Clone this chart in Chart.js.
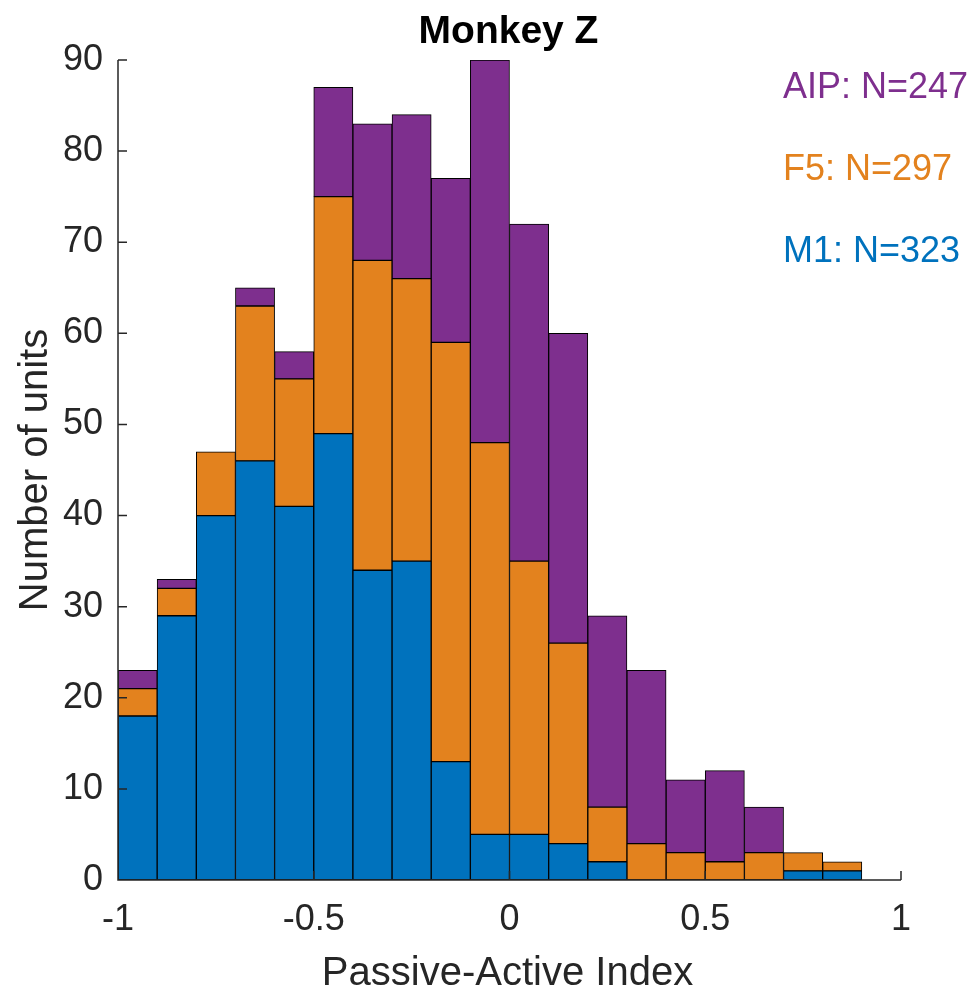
<!DOCTYPE html>
<html>
<head>
<meta charset="utf-8">
<script src="https://cdn.jsdelivr.net/npm/chart.js@4.4.1/dist/chart.umd.min.js"></script>
<style>
  html, body { margin: 0; padding: 0; background: #fff; }
  #wrap { width: 974px; height: 990px; }
</style>
</head>
<body>
<div id="wrap"><canvas id="histChart" width="974" height="990"></canvas></div>
<script>
// bin centers of the Passive-Active Index histogram (bin width 0.1)
const binCenters = [-0.95, -0.85, -0.75, -0.65, -0.55, -0.45, -0.35, -0.25, -0.15, -0.05,
                    0.05, 0.15, 0.25, 0.35, 0.45, 0.55, 0.65, 0.75, 0.85, 0.95];
// counts per area (stacked: M1 bottom, F5 middle, AIP top)
const m1Counts  = [18, 29, 40, 46, 41, 49, 34, 35, 13, 5, 5, 4, 2, 0, 0, 0, 0, 1, 1, 0];
const f5Counts  = [3, 3, 7, 17, 14, 26, 34, 31, 46, 43, 30, 22, 6, 4, 3, 2, 3, 2, 1, 0];
const aipCounts = [2, 1, 0, 2, 3, 12, 15, 18, 18, 42, 37, 34, 21, 19, 8, 10, 5, 0, 0, 0];
const xTicks = [-1, -0.5, 0, 0.5, 1];
const yTicks = [0, 10, 20, 30, 40, 50, 60, 70, 80, 90];
const areaLabels = ['AIP: N=247', 'F5: N=297', 'M1: N=323'];

const BLUE = '#0072BD';
const ORANGE = '#E3821E';
const PURPLE = '#7E2F8E';
const INK = '#262626';
const FONT = '"Liberation Sans", Arial, Helvetica, sans-serif';

function toPoints(counts) {
    return binCenters.map((c, i) => ({ x: c, y: counts[i] }));
}

// axes, inward ticks and all free text, drawn after the bars
const decorations = {
    id: 'decorations',
    afterDatasetsDraw(chart) {
        const { ctx, chartArea, scales } = chart;
        const x = scales.x, y = scales.y;
        ctx.save();
        ctx.strokeStyle = INK;
        ctx.lineWidth = 1.5;
        ctx.beginPath();
        ctx.moveTo(chartArea.left, chartArea.top);
        ctx.lineTo(chartArea.left, chartArea.bottom);
        ctx.lineTo(chartArea.right, chartArea.bottom);
        yTicks.forEach(v => {
            const py = y.getPixelForValue(v);
            ctx.moveTo(chartArea.left, py);
            ctx.lineTo(chartArea.left + 9, py);
        });
        xTicks.forEach(v => {
            const px = x.getPixelForValue(v);
            ctx.moveTo(px, chartArea.bottom);
            ctx.lineTo(px, chartArea.bottom - 9);
        });
        ctx.stroke();
        ctx.restore();
    },
    afterDraw(chart) {
        const { ctx, chartArea } = chart;
        const midX = (chartArea.left + chartArea.right) / 2;
        ctx.save();
        ctx.textBaseline = 'alphabetic';

        ctx.fillStyle = '#000';
        ctx.font = 'bold 39px ' + FONT;
        ctx.textAlign = 'center';
        ctx.fillText('Monkey Z', midX - 1, 43);

        ctx.fillStyle = INK;
        ctx.font = '40px ' + FONT;
        ctx.fillText('Passive-Active Index', midX - 2, 985);

        ctx.save();
        ctx.translate(47, (chartArea.top + chartArea.bottom) / 2);
        ctx.rotate(-Math.PI / 2);
        ctx.fillText('Number of units', 0, 0);
        ctx.restore();

        ctx.font = '36px ' + FONT;
        ctx.textAlign = 'left';
        const colors = [PURPLE, ORANGE, BLUE];
        areaLabels.forEach((t, i) => {
            ctx.fillStyle = colors[i];
            ctx.fillText(t, 783, 98 + i * 82);
        });
        ctx.restore();
    }
};

function renderHistogram() {
    const ctx = document.getElementById('histChart')?.getContext('2d');
    if (!ctx) {
        console.error('Histogram canvas not found!');
        return;
    }

    const barStyle = {
        borderColor: '#000',
        borderWidth: 1,
        borderSkipped: false,
        barPercentage: 1.0,
        categoryPercentage: 1.0
    };

    new Chart(ctx, {
        type: 'bar',
        data: {
            datasets: [
                { label: 'M1', data: toPoints(m1Counts), backgroundColor: BLUE, ...barStyle },
                { label: 'F5', data: toPoints(f5Counts), backgroundColor: ORANGE, ...barStyle },
                { label: 'AIP', data: toPoints(aipCounts), backgroundColor: PURPLE, ...barStyle }
            ]
        },
        options: {
            responsive: false,
            animation: false,
            layout: { padding: { top: 60, right: 73, left: 0, bottom: 0 } },
            plugins: {
                legend: { display: false },
                tooltip: { enabled: false },
                title: { display: false }
            },
            scales: {
                x: {
                    type: 'linear',
                    stacked: true,
                    offset: false,
                    min: -1,
                    max: 1,
                    grid: { display: false, drawTicks: false },
                    border: { display: false },
                    afterBuildTicks: s => { s.ticks = xTicks.map(v => ({ value: v })); },
                    afterFit: s => { s.height = 110; },
                    ticks: {
                        color: INK,
                        font: { family: FONT, size: 36 },
                        padding: 18,
                        maxRotation: 0,
                        autoSkip: false,
                        callback: v => String(v)
                    }
                },
                y: {
                    stacked: true,
                    min: 0,
                    max: 90,
                    grid: { display: false, drawTicks: false },
                    border: { display: false },
                    afterBuildTicks: s => { s.ticks = yTicks.map(v => ({ value: v })); },
                    afterFit: s => { s.width = 118; },
                    ticks: {
                        color: INK,
                        font: { family: FONT, size: 36 },
                        padding: 15,
                        autoSkip: false
                    }
                }
            }
        },
        plugins: [decorations]
    });
}

window.onload = function() {
    renderHistogram();
};
</script>
</body>
</html>
